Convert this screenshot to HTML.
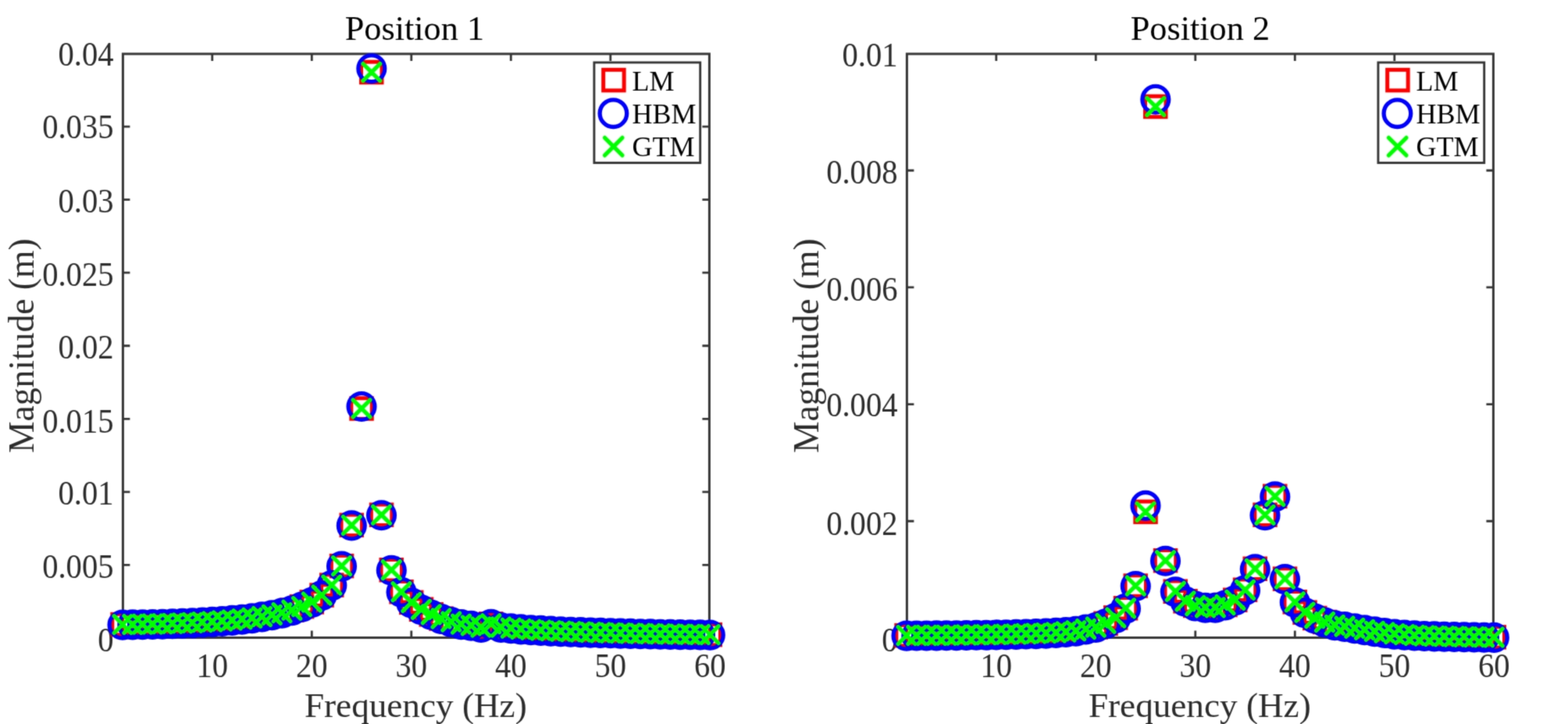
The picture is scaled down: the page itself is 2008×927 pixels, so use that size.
<!DOCTYPE html>
<html lang="en"><head><meta charset="utf-8"><title>Frequency response: Position 1 and Position 2</title>
<style>html,body{margin:0;padding:0;background:#fff;}body{width:2008px;height:927px;overflow:hidden;}svg{display:block;}text{font-family:'Liberation Serif', 'Times New Roman', Times, serif;fill:#2c2c2c;}.tk{font-size:40.6px;}.lb{font-size:45.6px;}.tt{font-size:44.3px;fill:#000;}.lg{font-size:36px;fill:#000;}.ax{fill:none;stroke:#363636;stroke-width:3;}.t{stroke:#363636;stroke-width:2.8;fill:none;}.s{fill:none;stroke:#ff0000;stroke-width:5;}.c{fill:none;stroke:#0000ff;stroke-width:5.3;}.x{fill:none;stroke:#00ff00;stroke-width:5.2;stroke-linecap:round;}</style></head><body>
<svg role="img" aria-label="Magnitude versus frequency at Position 1 and Position 2 for LM, HBM and GTM" width="2008" height="927" viewBox="0 0 2008 927">
<defs><filter id="soft" x="0" y="0" width="2008" height="927" filterUnits="userSpaceOnUse" color-interpolation-filters="sRGB"><feConvolveMatrix in="SourceGraphic" order="3" kernelMatrix="0.0277 0.1110 0.0277 0.1110 0.4452 0.1110 0.0277 0.1110 0.0277" edgeMode="duplicate" preserveAlpha="true" result="L"/><feColorMatrix in="L" type="matrix" values="0.299 0.587 0.114 0 0  0.299 0.587 0.114 0 0  0.299 0.587 0.114 0 0  0 0 0 1 0" result="Y"/><feGaussianBlur in="SourceGraphic" stdDeviation="1.2" result="C"/><feColorMatrix in="C" type="matrix" values="0.3505 -0.2935 -0.057 0 0.5  -0.1495 0.2065 -0.057 0 0.5  -0.1495 -0.2935 0.443 0 0.5  0 0 0 1 0" result="K"/><feComposite in="Y" in2="K" operator="arithmetic" k1="0" k2="1" k3="2" k4="-1"/></filter></defs>
<g filter="url(#soft)">
<rect x="-20" y="-20" width="2048" height="967" fill="#ffffff"/>
<g>
<rect class="ax" x="157.40" y="69.00" width="751.00" height="747.45"/>
<path class="t" d="M271.78 816.45v-9.00M271.78 69.00v9.00M399.28 816.45v-9.00M399.28 69.00v9.00M526.78 816.45v-9.00M526.78 69.00v9.00M654.28 816.45v-9.00M654.28 69.00v9.00M781.78 816.45v-9.00M781.78 69.00v9.00M157.40 723.36h9.00M908.40 723.36h-9.00M157.40 629.82h9.00M908.40 629.82h-9.00M157.40 536.28h9.00M908.40 536.28h-9.00M157.40 442.74h9.00M908.40 442.74h-9.00M157.40 349.20h9.00M908.40 349.20h-9.00M157.40 255.66h9.00M908.40 255.66h-9.00M157.40 162.12h9.00M908.40 162.12h-9.00"/>
<text class="tk" transform="translate(271.78 866.50) scale(1 1.065)" text-anchor="middle">10</text>
<text class="tk" transform="translate(399.28 866.50) scale(1 1.065)" text-anchor="middle">20</text>
<text class="tk" transform="translate(526.78 866.50) scale(1 1.065)" text-anchor="middle">30</text>
<text class="tk" transform="translate(654.28 866.50) scale(1 1.065)" text-anchor="middle">40</text>
<text class="tk" transform="translate(781.78 866.50) scale(1 1.065)" text-anchor="middle">50</text>
<text class="tk" transform="translate(909.28 866.50) scale(1 1.065)" text-anchor="middle">60</text>
<text class="tk" transform="translate(145.50 833.70) scale(1 1.065)" text-anchor="end">0</text>
<text class="tk" transform="translate(145.50 740.46) scale(1 1.065)" text-anchor="end">0.005</text>
<text class="tk" transform="translate(145.50 646.02) scale(1 1.065)" text-anchor="end">0.01</text>
<text class="tk" transform="translate(145.50 553.58) scale(1 1.065)" text-anchor="end">0.015</text>
<text class="tk" transform="translate(145.50 458.64) scale(1 1.065)" text-anchor="end">0.02</text>
<text class="tk" transform="translate(145.50 366.00) scale(1 1.065)" text-anchor="end">0.025</text>
<text class="tk" transform="translate(145.50 272.16) scale(1 1.065)" text-anchor="end">0.03</text>
<text class="tk" transform="translate(145.50 177.37) scale(1 1.065)" text-anchor="end">0.035</text>
<text class="tk" transform="translate(145.50 84.48) scale(1 1.065)" text-anchor="end">0.04</text>
<text class="tt" x="530.90" y="51.20" text-anchor="middle">Position 1</text>
<text class="lb" style="font-size:45.2px" x="532.30" y="917.50" text-anchor="middle">Frequency (Hz)</text>
<text class="lb" text-anchor="middle" transform="translate(42.80 442.73) rotate(-90)">Magnitude (m)</text>
<g class="s">
<rect x="143.8" y="786.3" width="26.5" height="26.5"/>
<rect x="156.5" y="786.2" width="26.5" height="26.5"/>
<rect x="169.3" y="786.0" width="26.5" height="26.5"/>
<rect x="182.0" y="785.7" width="26.5" height="26.5"/>
<rect x="194.8" y="785.4" width="26.5" height="26.5"/>
<rect x="207.5" y="785.0" width="26.5" height="26.5"/>
<rect x="220.3" y="784.6" width="26.5" height="26.5"/>
<rect x="233.0" y="784.0" width="26.5" height="26.5"/>
<rect x="245.8" y="783.4" width="26.5" height="26.5"/>
<rect x="258.5" y="782.6" width="26.5" height="26.5"/>
<rect x="271.3" y="781.7" width="26.5" height="26.5"/>
<rect x="284.0" y="780.7" width="26.5" height="26.5"/>
<rect x="296.8" y="779.4" width="26.5" height="26.5"/>
<rect x="309.5" y="778.0" width="26.5" height="26.5"/>
<rect x="322.3" y="776.2" width="26.5" height="26.5"/>
<rect x="335.0" y="774.0" width="26.5" height="26.5"/>
<rect x="347.8" y="771.4" width="26.5" height="26.5"/>
<rect x="360.5" y="767.9" width="26.5" height="26.5"/>
<rect x="373.3" y="763.4" width="26.5" height="26.5"/>
<rect x="386.0" y="757.6" width="26.5" height="26.5"/>
<rect x="398.8" y="748.8" width="26.5" height="26.5"/>
<rect x="411.5" y="735.9" width="26.5" height="26.5"/>
<rect x="424.3" y="711.4" width="26.5" height="26.5"/>
<rect x="437.0" y="659.1" width="26.5" height="26.5"/>
<rect x="449.8" y="509.8" width="26.5" height="26.5"/>
<rect x="462.5" y="79.2" width="26.5" height="26.5"/>
<rect x="475.3" y="646.0" width="26.5" height="26.5"/>
<rect x="488.0" y="716.5" width="26.5" height="26.5"/>
<rect x="500.8" y="744.5" width="26.5" height="26.5"/>
<rect x="513.5" y="758.1" width="26.5" height="26.5"/>
<rect x="526.3" y="767.0" width="26.5" height="26.5"/>
<rect x="539.0" y="773.5" width="26.5" height="26.5"/>
<rect x="551.8" y="778.8" width="26.5" height="26.5"/>
<rect x="564.5" y="782.8" width="26.5" height="26.5"/>
<rect x="577.3" y="785.9" width="26.5" height="26.5"/>
<rect x="590.0" y="787.5" width="26.5" height="26.5"/>
<rect x="602.8" y="789.8" width="26.5" height="26.5"/>
<rect x="615.5" y="785.5" width="26.5" height="26.5"/>
<rect x="628.3" y="789.8" width="26.5" height="26.5"/>
<rect x="641.0" y="791.0" width="26.5" height="26.5"/>
<rect x="653.8" y="792.1" width="26.5" height="26.5"/>
<rect x="666.5" y="793.0" width="26.5" height="26.5"/>
<rect x="679.3" y="793.7" width="26.5" height="26.5"/>
<rect x="692.0" y="794.3" width="26.5" height="26.5"/>
<rect x="704.8" y="794.9" width="26.5" height="26.5"/>
<rect x="717.5" y="795.4" width="26.5" height="26.5"/>
<rect x="730.3" y="795.9" width="26.5" height="26.5"/>
<rect x="743.0" y="796.3" width="26.5" height="26.5"/>
<rect x="755.8" y="796.7" width="26.5" height="26.5"/>
<rect x="768.5" y="797.0" width="26.5" height="26.5"/>
<rect x="781.3" y="797.4" width="26.5" height="26.5"/>
<rect x="794.0" y="797.7" width="26.5" height="26.5"/>
<rect x="806.8" y="797.9" width="26.5" height="26.5"/>
<rect x="819.5" y="798.2" width="26.5" height="26.5"/>
<rect x="832.3" y="798.4" width="26.5" height="26.5"/>
<rect x="845.0" y="798.6" width="26.5" height="26.5"/>
<rect x="857.8" y="798.8" width="26.5" height="26.5"/>
<rect x="870.5" y="799.0" width="26.5" height="26.5"/>
<rect x="883.3" y="799.2" width="26.5" height="26.5"/>
<rect x="896.0" y="799.4" width="26.5" height="26.5"/>
</g>
<g class="c">
<circle cx="157.0" cy="800.1" r="16.9"/>
<circle cx="169.8" cy="799.9" r="16.9"/>
<circle cx="182.5" cy="799.7" r="16.9"/>
<circle cx="195.3" cy="799.5" r="16.9"/>
<circle cx="208.0" cy="799.2" r="16.9"/>
<circle cx="220.8" cy="798.8" r="16.9"/>
<circle cx="233.5" cy="798.3" r="16.9"/>
<circle cx="246.3" cy="797.8" r="16.9"/>
<circle cx="259.0" cy="797.1" r="16.9"/>
<circle cx="271.8" cy="796.4" r="16.9"/>
<circle cx="284.5" cy="795.5" r="16.9"/>
<circle cx="297.3" cy="794.4" r="16.9"/>
<circle cx="310.0" cy="793.2" r="16.9"/>
<circle cx="322.8" cy="791.7" r="16.9"/>
<circle cx="335.5" cy="789.9" r="16.9"/>
<circle cx="348.3" cy="787.8" r="16.9"/>
<circle cx="361.0" cy="785.1" r="16.9"/>
<circle cx="373.8" cy="781.7" r="16.9"/>
<circle cx="386.5" cy="777.1" r="16.9"/>
<circle cx="399.3" cy="771.4" r="16.9"/>
<circle cx="412.0" cy="762.5" r="16.9"/>
<circle cx="424.8" cy="749.6" r="16.9"/>
<circle cx="437.5" cy="725.1" r="16.9"/>
<circle cx="450.3" cy="672.9" r="16.9"/>
<circle cx="463.0" cy="520.5" r="16.9"/>
<circle cx="475.8" cy="87.7" r="16.9"/>
<circle cx="488.5" cy="659.7" r="16.9"/>
<circle cx="501.3" cy="730.2" r="16.9"/>
<circle cx="514.0" cy="758.2" r="16.9"/>
<circle cx="526.8" cy="771.9" r="16.9"/>
<circle cx="539.5" cy="780.8" r="16.9"/>
<circle cx="552.3" cy="787.3" r="16.9"/>
<circle cx="565.0" cy="792.5" r="16.9"/>
<circle cx="577.8" cy="796.5" r="16.9"/>
<circle cx="590.5" cy="799.6" r="16.9"/>
<circle cx="603.3" cy="801.3" r="16.9"/>
<circle cx="616.0" cy="803.5" r="16.9"/>
<circle cx="628.8" cy="799.2" r="16.9"/>
<circle cx="641.5" cy="803.5" r="16.9"/>
<circle cx="654.3" cy="804.7" r="16.9"/>
<circle cx="667.0" cy="805.9" r="16.9"/>
<circle cx="679.8" cy="806.7" r="16.9"/>
<circle cx="692.5" cy="807.4" r="16.9"/>
<circle cx="705.3" cy="808.1" r="16.9"/>
<circle cx="718.0" cy="808.7" r="16.9"/>
<circle cx="730.8" cy="809.2" r="16.9"/>
<circle cx="743.5" cy="809.6" r="16.9"/>
<circle cx="756.3" cy="810.1" r="16.9"/>
<circle cx="769.0" cy="810.4" r="16.9"/>
<circle cx="781.8" cy="810.8" r="16.9"/>
<circle cx="794.5" cy="811.1" r="16.9"/>
<circle cx="807.3" cy="811.4" r="16.9"/>
<circle cx="820.0" cy="811.7" r="16.9"/>
<circle cx="832.8" cy="811.9" r="16.9"/>
<circle cx="845.5" cy="812.2" r="16.9"/>
<circle cx="858.3" cy="812.4" r="16.9"/>
<circle cx="871.0" cy="812.6" r="16.9"/>
<circle cx="883.8" cy="812.8" r="16.9"/>
<circle cx="896.5" cy="812.9" r="16.9"/>
<circle cx="909.3" cy="813.1" r="16.9"/>
</g>
<path class="x" d="M146.1 788.7l21.8 21.8m-21.8 0l21.8 -21.8M158.9 788.5l21.8 21.8m-21.8 0l21.8 -21.8M171.6 788.3l21.8 21.8m-21.8 0l21.8 -21.8M184.4 788.1l21.8 21.8m-21.8 0l21.8 -21.8M197.1 787.8l21.8 21.8m-21.8 0l21.8 -21.8M209.9 787.4l21.8 21.8m-21.8 0l21.8 -21.8M222.6 786.9l21.8 21.8m-21.8 0l21.8 -21.8M235.4 786.4l21.8 21.8m-21.8 0l21.8 -21.8M248.1 785.7l21.8 21.8m-21.8 0l21.8 -21.8M260.9 785.0l21.8 21.8m-21.8 0l21.8 -21.8M273.6 784.1l21.8 21.8m-21.8 0l21.8 -21.8M286.4 783.0l21.8 21.8m-21.8 0l21.8 -21.8M299.1 781.8l21.8 21.8m-21.8 0l21.8 -21.8M311.9 780.3l21.8 21.8m-21.8 0l21.8 -21.8M324.6 778.5l21.8 21.8m-21.8 0l21.8 -21.8M337.4 776.4l21.8 21.8m-21.8 0l21.8 -21.8M350.1 773.7l21.8 21.8m-21.8 0l21.8 -21.8M362.9 770.3l21.8 21.8m-21.8 0l21.8 -21.8M375.6 765.7l21.8 21.8m-21.8 0l21.8 -21.8M388.4 760.0l21.8 21.8m-21.8 0l21.8 -21.8M401.1 751.1l21.8 21.8m-21.8 0l21.8 -21.8M413.9 738.2l21.8 21.8m-21.8 0l21.8 -21.8M426.6 713.7l21.8 21.8m-21.8 0l21.8 -21.8M439.4 661.5l21.8 21.8m-21.8 0l21.8 -21.8M452.1 512.1l21.8 21.8m-21.8 0l21.8 -21.8M464.9 81.6l21.8 21.8m-21.8 0l21.8 -21.8M477.6 648.3l21.8 21.8m-21.8 0l21.8 -21.8M490.4 718.8l21.8 21.8m-21.8 0l21.8 -21.8M503.1 746.8l21.8 21.8m-21.8 0l21.8 -21.8M515.9 760.5l21.8 21.8m-21.8 0l21.8 -21.8M528.6 769.4l21.8 21.8m-21.8 0l21.8 -21.8M541.4 775.9l21.8 21.8m-21.8 0l21.8 -21.8M554.1 781.1l21.8 21.8m-21.8 0l21.8 -21.8M566.9 785.1l21.8 21.8m-21.8 0l21.8 -21.8M579.6 788.2l21.8 21.8m-21.8 0l21.8 -21.8M592.4 789.9l21.8 21.8m-21.8 0l21.8 -21.8M605.1 792.1l21.8 21.8m-21.8 0l21.8 -21.8M617.9 787.8l21.8 21.8m-21.8 0l21.8 -21.8M630.6 792.1l21.8 21.8m-21.8 0l21.8 -21.8M643.4 793.3l21.8 21.8m-21.8 0l21.8 -21.8M656.1 794.5l21.8 21.8m-21.8 0l21.8 -21.8M668.9 795.3l21.8 21.8m-21.8 0l21.8 -21.8M681.6 796.0l21.8 21.8m-21.8 0l21.8 -21.8M694.4 796.7l21.8 21.8m-21.8 0l21.8 -21.8M707.1 797.3l21.8 21.8m-21.8 0l21.8 -21.8M719.9 797.8l21.8 21.8m-21.8 0l21.8 -21.8M732.6 798.2l21.8 21.8m-21.8 0l21.8 -21.8M745.4 798.7l21.8 21.8m-21.8 0l21.8 -21.8M758.1 799.0l21.8 21.8m-21.8 0l21.8 -21.8M770.9 799.4l21.8 21.8m-21.8 0l21.8 -21.8M783.6 799.7l21.8 21.8m-21.8 0l21.8 -21.8M796.4 800.0l21.8 21.8m-21.8 0l21.8 -21.8M809.1 800.3l21.8 21.8m-21.8 0l21.8 -21.8M821.9 800.5l21.8 21.8m-21.8 0l21.8 -21.8M834.6 800.8l21.8 21.8m-21.8 0l21.8 -21.8M847.4 801.0l21.8 21.8m-21.8 0l21.8 -21.8M860.1 801.2l21.8 21.8m-21.8 0l21.8 -21.8M872.9 801.4l21.8 21.8m-21.8 0l21.8 -21.8M885.6 801.5l21.8 21.8m-21.8 0l21.8 -21.8M898.4 801.7l21.8 21.8m-21.8 0l21.8 -21.8"/>
<rect x="760.90" y="80.00" width="135.80" height="128.50" fill="#ffffff" stroke="#363636" stroke-width="2.9"/>
<rect class="s" x="772.65" y="89.35" width="26.50" height="26.50"/>
<circle class="c" cx="785.40" cy="145.20" r="17.30"/>
<path class="x" d="M774.40 176.30l22.60 22.60m-22.60 0l22.60 -22.60"/>
<text class="lg" x="809.50" y="115.50">LM</text>
<text class="lg" x="809.50" y="158.00">HBM</text>
<text class="lg" x="809.50" y="200.30">GTM</text>
</g>
<g>
<rect class="ax" x="1161.40" y="69.00" width="751.00" height="747.45"/>
<path class="t" d="M1275.78 816.45v-9.00M1275.78 69.00v9.00M1403.28 816.45v-9.00M1403.28 69.00v9.00M1530.78 816.45v-9.00M1530.78 69.00v9.00M1658.28 816.45v-9.00M1658.28 69.00v9.00M1785.78 816.45v-9.00M1785.78 69.00v9.00M1161.40 667.24h9.00M1912.40 667.24h-9.00M1161.40 517.58h9.00M1912.40 517.58h-9.00M1161.40 367.92h9.00M1912.40 367.92h-9.00M1161.40 218.26h9.00M1912.40 218.26h-9.00"/>
<text class="tk" transform="translate(1275.78 866.50) scale(1 1.065)" text-anchor="middle">10</text>
<text class="tk" transform="translate(1403.28 866.50) scale(1 1.065)" text-anchor="middle">20</text>
<text class="tk" transform="translate(1530.78 866.50) scale(1 1.065)" text-anchor="middle">30</text>
<text class="tk" transform="translate(1658.28 866.50) scale(1 1.065)" text-anchor="middle">40</text>
<text class="tk" transform="translate(1785.78 866.50) scale(1 1.065)" text-anchor="middle">50</text>
<text class="tk" transform="translate(1913.28 866.50) scale(1 1.065)" text-anchor="middle">60</text>
<text class="tk" transform="translate(1149.50 833.50) scale(1 1.065)" text-anchor="end">0</text>
<text class="tk" transform="translate(1149.50 684.64) scale(1 1.065)" text-anchor="end">0.002</text>
<text class="tk" transform="translate(1149.50 533.28) scale(1 1.065)" text-anchor="end">0.004</text>
<text class="tk" transform="translate(1149.50 384.82) scale(1 1.065)" text-anchor="end">0.006</text>
<text class="tk" transform="translate(1149.50 234.56) scale(1 1.065)" text-anchor="end">0.008</text>
<text class="tk" transform="translate(1149.50 84.50) scale(1 1.065)" text-anchor="end">0.01</text>
<text class="tt" x="1536.90" y="51.20" text-anchor="middle">Position 2</text>
<text class="lb" style="font-size:45.2px" x="1536.30" y="917.50" text-anchor="middle">Frequency (Hz)</text>
<text class="lb" text-anchor="middle" transform="translate(1047.60 442.73) rotate(-90)">Magnitude (m)</text>
<g class="s">
<rect x="1147.8" y="800.4" width="26.5" height="26.5"/>
<rect x="1160.5" y="800.3" width="26.5" height="26.5"/>
<rect x="1173.3" y="800.2" width="26.5" height="26.5"/>
<rect x="1186.0" y="800.1" width="26.5" height="26.5"/>
<rect x="1198.8" y="800.0" width="26.5" height="26.5"/>
<rect x="1211.5" y="799.9" width="26.5" height="26.5"/>
<rect x="1224.3" y="799.8" width="26.5" height="26.5"/>
<rect x="1237.0" y="799.6" width="26.5" height="26.5"/>
<rect x="1249.8" y="799.4" width="26.5" height="26.5"/>
<rect x="1262.5" y="799.2" width="26.5" height="26.5"/>
<rect x="1275.3" y="798.9" width="26.5" height="26.5"/>
<rect x="1288.0" y="798.6" width="26.5" height="26.5"/>
<rect x="1300.8" y="798.3" width="26.5" height="26.5"/>
<rect x="1313.5" y="797.9" width="26.5" height="26.5"/>
<rect x="1326.3" y="797.3" width="26.5" height="26.5"/>
<rect x="1339.0" y="796.7" width="26.5" height="26.5"/>
<rect x="1351.8" y="795.7" width="26.5" height="26.5"/>
<rect x="1364.5" y="794.4" width="26.5" height="26.5"/>
<rect x="1377.3" y="792.2" width="26.5" height="26.5"/>
<rect x="1390.0" y="789.8" width="26.5" height="26.5"/>
<rect x="1402.8" y="785.0" width="26.5" height="26.5"/>
<rect x="1415.5" y="777.6" width="26.5" height="26.5"/>
<rect x="1428.3" y="765.5" width="26.5" height="26.5"/>
<rect x="1441.0" y="736.8" width="26.5" height="26.5"/>
<rect x="1453.8" y="642.1" width="26.5" height="26.5"/>
<rect x="1466.5" y="123.2" width="26.5" height="26.5"/>
<rect x="1479.3" y="704.5" width="26.5" height="26.5"/>
<rect x="1492.0" y="744.0" width="26.5" height="26.5"/>
<rect x="1504.8" y="756.5" width="26.5" height="26.5"/>
<rect x="1517.5" y="762.2" width="26.5" height="26.5"/>
<rect x="1530.3" y="764.5" width="26.5" height="26.5"/>
<rect x="1543.0" y="764.5" width="26.5" height="26.5"/>
<rect x="1555.8" y="761.2" width="26.5" height="26.5"/>
<rect x="1568.5" y="755.0" width="26.5" height="26.5"/>
<rect x="1581.3" y="742.0" width="26.5" height="26.5"/>
<rect x="1594.0" y="715.0" width="26.5" height="26.5"/>
<rect x="1606.8" y="646.0" width="26.5" height="26.5"/>
<rect x="1619.5" y="622.1" width="26.5" height="26.5"/>
<rect x="1632.3" y="727.9" width="26.5" height="26.5"/>
<rect x="1645.0" y="757.5" width="26.5" height="26.5"/>
<rect x="1657.8" y="770.9" width="26.5" height="26.5"/>
<rect x="1670.5" y="778.2" width="26.5" height="26.5"/>
<rect x="1683.3" y="783.2" width="26.5" height="26.5"/>
<rect x="1696.0" y="787.0" width="26.5" height="26.5"/>
<rect x="1708.8" y="788.8" width="26.5" height="26.5"/>
<rect x="1721.5" y="791.0" width="26.5" height="26.5"/>
<rect x="1734.3" y="793.0" width="26.5" height="26.5"/>
<rect x="1747.0" y="795.0" width="26.5" height="26.5"/>
<rect x="1759.8" y="796.8" width="26.5" height="26.5"/>
<rect x="1772.5" y="798.4" width="26.5" height="26.5"/>
<rect x="1785.3" y="799.4" width="26.5" height="26.5"/>
<rect x="1798.0" y="800.1" width="26.5" height="26.5"/>
<rect x="1810.8" y="800.8" width="26.5" height="26.5"/>
<rect x="1823.5" y="801.1" width="26.5" height="26.5"/>
<rect x="1836.3" y="801.5" width="26.5" height="26.5"/>
<rect x="1849.0" y="801.8" width="26.5" height="26.5"/>
<rect x="1861.8" y="802.0" width="26.5" height="26.5"/>
<rect x="1874.5" y="802.2" width="26.5" height="26.5"/>
<rect x="1887.3" y="802.5" width="26.5" height="26.5"/>
<rect x="1900.0" y="802.6" width="26.5" height="26.5"/>
</g>
<g class="c">
<circle cx="1161.0" cy="814.1" r="16.9"/>
<circle cx="1173.8" cy="814.0" r="16.9"/>
<circle cx="1186.5" cy="814.0" r="16.9"/>
<circle cx="1199.3" cy="813.9" r="16.9"/>
<circle cx="1212.0" cy="813.8" r="16.9"/>
<circle cx="1224.8" cy="813.7" r="16.9"/>
<circle cx="1237.5" cy="813.5" r="16.9"/>
<circle cx="1250.3" cy="813.3" r="16.9"/>
<circle cx="1263.0" cy="813.2" r="16.9"/>
<circle cx="1275.8" cy="812.9" r="16.9"/>
<circle cx="1288.5" cy="812.7" r="16.9"/>
<circle cx="1301.3" cy="812.4" r="16.9"/>
<circle cx="1314.0" cy="812.0" r="16.9"/>
<circle cx="1326.8" cy="811.6" r="16.9"/>
<circle cx="1339.5" cy="811.1" r="16.9"/>
<circle cx="1352.3" cy="810.4" r="16.9"/>
<circle cx="1365.0" cy="809.5" r="16.9"/>
<circle cx="1377.8" cy="808.2" r="16.9"/>
<circle cx="1390.5" cy="806.0" r="16.9"/>
<circle cx="1403.3" cy="803.5" r="16.9"/>
<circle cx="1416.0" cy="798.8" r="16.9"/>
<circle cx="1428.8" cy="791.4" r="16.9"/>
<circle cx="1441.5" cy="779.3" r="16.9"/>
<circle cx="1454.3" cy="750.5" r="16.9"/>
<circle cx="1467.0" cy="647.4" r="16.9"/>
<circle cx="1479.8" cy="127.3" r="16.9"/>
<circle cx="1492.5" cy="718.2" r="16.9"/>
<circle cx="1505.3" cy="757.7" r="16.9"/>
<circle cx="1518.0" cy="770.3" r="16.9"/>
<circle cx="1530.8" cy="776.0" r="16.9"/>
<circle cx="1543.5" cy="778.3" r="16.9"/>
<circle cx="1556.3" cy="778.3" r="16.9"/>
<circle cx="1569.0" cy="775.0" r="16.9"/>
<circle cx="1581.8" cy="768.8" r="16.9"/>
<circle cx="1594.5" cy="755.8" r="16.9"/>
<circle cx="1607.3" cy="728.8" r="16.9"/>
<circle cx="1620.0" cy="659.8" r="16.9"/>
<circle cx="1632.8" cy="635.9" r="16.9"/>
<circle cx="1645.5" cy="741.6" r="16.9"/>
<circle cx="1658.3" cy="771.2" r="16.9"/>
<circle cx="1671.0" cy="784.6" r="16.9"/>
<circle cx="1683.8" cy="792.0" r="16.9"/>
<circle cx="1696.5" cy="797.0" r="16.9"/>
<circle cx="1709.3" cy="800.8" r="16.9"/>
<circle cx="1722.0" cy="802.5" r="16.9"/>
<circle cx="1734.8" cy="804.8" r="16.9"/>
<circle cx="1747.5" cy="806.8" r="16.9"/>
<circle cx="1760.3" cy="808.8" r="16.9"/>
<circle cx="1773.0" cy="810.5" r="16.9"/>
<circle cx="1785.8" cy="812.1" r="16.9"/>
<circle cx="1798.5" cy="813.1" r="16.9"/>
<circle cx="1811.3" cy="813.9" r="16.9"/>
<circle cx="1824.0" cy="814.5" r="16.9"/>
<circle cx="1836.8" cy="814.9" r="16.9"/>
<circle cx="1849.5" cy="815.2" r="16.9"/>
<circle cx="1862.3" cy="815.5" r="16.9"/>
<circle cx="1875.0" cy="815.8" r="16.9"/>
<circle cx="1887.8" cy="816.0" r="16.9"/>
<circle cx="1900.5" cy="816.2" r="16.9"/>
<circle cx="1913.3" cy="816.4" r="16.9"/>
</g>
<path class="x" d="M1150.1 802.7l21.8 21.8m-21.8 0l21.8 -21.8M1162.9 802.6l21.8 21.8m-21.8 0l21.8 -21.8M1175.6 802.6l21.8 21.8m-21.8 0l21.8 -21.8M1188.4 802.5l21.8 21.8m-21.8 0l21.8 -21.8M1201.1 802.4l21.8 21.8m-21.8 0l21.8 -21.8M1213.9 802.3l21.8 21.8m-21.8 0l21.8 -21.8M1226.6 802.1l21.8 21.8m-21.8 0l21.8 -21.8M1239.4 801.9l21.8 21.8m-21.8 0l21.8 -21.8M1252.1 801.8l21.8 21.8m-21.8 0l21.8 -21.8M1264.9 801.5l21.8 21.8m-21.8 0l21.8 -21.8M1277.6 801.3l21.8 21.8m-21.8 0l21.8 -21.8M1290.4 801.0l21.8 21.8m-21.8 0l21.8 -21.8M1303.1 800.6l21.8 21.8m-21.8 0l21.8 -21.8M1315.9 800.2l21.8 21.8m-21.8 0l21.8 -21.8M1328.6 799.7l21.8 21.8m-21.8 0l21.8 -21.8M1341.4 799.0l21.8 21.8m-21.8 0l21.8 -21.8M1354.1 798.1l21.8 21.8m-21.8 0l21.8 -21.8M1366.9 796.8l21.8 21.8m-21.8 0l21.8 -21.8M1379.6 794.6l21.8 21.8m-21.8 0l21.8 -21.8M1392.4 792.1l21.8 21.8m-21.8 0l21.8 -21.8M1405.1 787.4l21.8 21.8m-21.8 0l21.8 -21.8M1417.9 780.0l21.8 21.8m-21.8 0l21.8 -21.8M1430.6 767.9l21.8 21.8m-21.8 0l21.8 -21.8M1443.4 739.1l21.8 21.8m-21.8 0l21.8 -21.8M1456.1 644.5l21.8 21.8m-21.8 0l21.8 -21.8M1468.9 125.6l21.8 21.8m-21.8 0l21.8 -21.8M1481.6 706.8l21.8 21.8m-21.8 0l21.8 -21.8M1494.4 746.3l21.8 21.8m-21.8 0l21.8 -21.8M1507.1 758.9l21.8 21.8m-21.8 0l21.8 -21.8M1519.9 764.6l21.8 21.8m-21.8 0l21.8 -21.8M1532.6 766.9l21.8 21.8m-21.8 0l21.8 -21.8M1545.4 766.9l21.8 21.8m-21.8 0l21.8 -21.8M1558.1 763.6l21.8 21.8m-21.8 0l21.8 -21.8M1570.9 757.4l21.8 21.8m-21.8 0l21.8 -21.8M1583.6 744.4l21.8 21.8m-21.8 0l21.8 -21.8M1596.4 717.4l21.8 21.8m-21.8 0l21.8 -21.8M1609.1 648.4l21.8 21.8m-21.8 0l21.8 -21.8M1621.9 624.5l21.8 21.8m-21.8 0l21.8 -21.8M1634.6 730.2l21.8 21.8m-21.8 0l21.8 -21.8M1647.4 759.8l21.8 21.8m-21.8 0l21.8 -21.8M1660.1 773.2l21.8 21.8m-21.8 0l21.8 -21.8M1672.9 780.6l21.8 21.8m-21.8 0l21.8 -21.8M1685.6 785.6l21.8 21.8m-21.8 0l21.8 -21.8M1698.4 789.4l21.8 21.8m-21.8 0l21.8 -21.8M1711.1 791.1l21.8 21.8m-21.8 0l21.8 -21.8M1723.9 793.4l21.8 21.8m-21.8 0l21.8 -21.8M1736.6 795.4l21.8 21.8m-21.8 0l21.8 -21.8M1749.4 797.4l21.8 21.8m-21.8 0l21.8 -21.8M1762.1 799.1l21.8 21.8m-21.8 0l21.8 -21.8M1774.9 800.7l21.8 21.8m-21.8 0l21.8 -21.8M1787.6 801.7l21.8 21.8m-21.8 0l21.8 -21.8M1800.4 802.5l21.8 21.8m-21.8 0l21.8 -21.8M1813.1 803.1l21.8 21.8m-21.8 0l21.8 -21.8M1825.9 803.5l21.8 21.8m-21.8 0l21.8 -21.8M1838.6 803.8l21.8 21.8m-21.8 0l21.8 -21.8M1851.4 804.1l21.8 21.8m-21.8 0l21.8 -21.8M1864.1 804.4l21.8 21.8m-21.8 0l21.8 -21.8M1876.9 804.6l21.8 21.8m-21.8 0l21.8 -21.8M1889.6 804.8l21.8 21.8m-21.8 0l21.8 -21.8M1902.4 805.0l21.8 21.8m-21.8 0l21.8 -21.8"/>
<rect x="1764.90" y="80.00" width="135.80" height="128.50" fill="#ffffff" stroke="#363636" stroke-width="2.9"/>
<rect class="s" x="1776.65" y="89.35" width="26.50" height="26.50"/>
<circle class="c" cx="1789.40" cy="145.20" r="17.30"/>
<path class="x" d="M1778.40 176.30l22.60 22.60m-22.60 0l22.60 -22.60"/>
<text class="lg" x="1813.50" y="115.50">LM</text>
<text class="lg" x="1813.50" y="158.00">HBM</text>
<text class="lg" x="1813.50" y="200.30">GTM</text>
</g>
</g>
</svg></body></html>
